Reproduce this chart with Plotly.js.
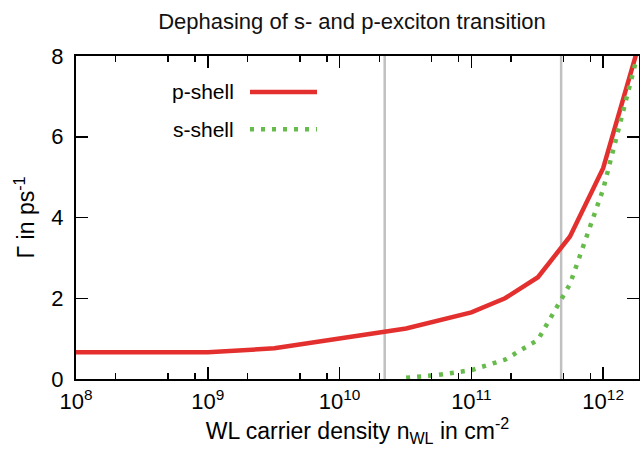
<!DOCTYPE html>
<html>
<head>
<meta charset="utf-8">
<script src="https://cdn.plot.ly/plotly-3.0.1.min.js"></script>
<style>html,body{margin:0;padding:0;background:#fff}</style>
</head>
<body>
<div id="chart" style="width:640px;height:452px"></div>
<script>
// Carrier density grid (cm^-2)
const densityP = [1e8, 1e9, 3.2e9, 1e10, 3.2e10, 1e11, 1.8e11, 3.2e11, 5.6e11, 1e12, 1.8e12];
const gammaP   = [0.66, 0.66, 0.76, 1.0, 1.25, 1.65, 2.0, 2.52, 3.53, 5.22, 8.1];
const densityS = [3.2e10, 5.6e10, 1e11, 1.8e11, 3.2e11, 5.6e11, 1e12, 1.8e12];
const gammaS   = [0.03, 0.1, 0.22, 0.48, 0.97, 2.35, 4.7, 7.95];
const markerLines = [2.2e10, 4.8e11];
const xTickVals = [1e8, 1e9, 1e10, 1e11, 1e12];
const xTickText = ['10<sup>8</sup>', '10<sup>9</sup>', '10<sup>10</sup>', '10<sup>11</sup>', '10<sup>12</sup>'];
const xMinorVals = [2e8, 5e8, 8e8, 2e9, 5e9, 8e9, 2e10, 5e10, 8e10, 2e11, 5e11, 8e11, 2e12, 5e12];
const yTickVals = [0, 2, 4, 6, 8];
const seriesNames = ['p-shell', 's-shell'];

const RED = '#e3302f', GREEN = '#66bb4a', GRAY = '#c0c0c0';
const FONT = 'Liberation Sans, Arial, Helvetica, sans-serif';

const traces = [];
markerLines.forEach(v => traces.push({
  x: [v, v], y: [0, 8], mode: 'lines', showlegend: false, hoverinfo: 'skip',
  line: {color: GRAY, width: 2.5}
}));
traces.push({x: densityP, y: gammaP, mode: 'lines', name: seriesNames[0], showlegend: false,
  line: {color: RED, width: 4.5}});
traces.push({x: densityS, y: gammaS, mode: 'lines', name: seriesNames[1], showlegend: false,
  line: {color: GREEN, width: 4.5, dash: '4px,7px'}});

const layout = {
  width: 640, height: 452,
  margin: {l: 76, r: 1, t: 56, b: 73},
  paper_bgcolor: '#fff', plot_bgcolor: '#fff',
  font: {family: FONT, color: '#000', size: 22},
  showlegend: false,
  title: {text: 'Dephasing of s- and p-exciton transition', font: {size: 22, family: FONT, color: '#111'},
          x: 352/640, xref: 'container', xanchor: 'center', y: 1 - 21/452, yref: 'container', yanchor: 'middle'},
  xaxis: {
    type: 'log', range: [8, 12.272], tickmode: 'array', tickvals: xTickVals, ticktext: xTickText,
    ticks: 'inside', ticklen: 12, tickwidth: 1.5, tickcolor: '#000',
    showline: true, linewidth: 2, linecolor: '#000', mirror: 'allticks',
    showgrid: false, zeroline: false,
    minor: {tickmode: 'array', tickvals: xMinorVals, ticks: 'inside', ticklen: 6, tickwidth: 1.5, tickcolor: '#000', showgrid: false},
    tickfont: {size: 22, family: FONT}, ticklabelstandoff: 2,
    title: {text: 'WL carrier density n<sub>WL</sub> in cm<sup>-2</sup>', font: {size: 23, family: FONT}, standoff: 6}
  },
  yaxis: {
    range: [0, 8], tickmode: 'array', tickvals: yTickVals,
    ticks: 'inside', ticklen: 12, tickwidth: 1.5, tickcolor: '#000',
    showline: true, linewidth: 2, linecolor: '#000', mirror: 'allticks',
    showgrid: false, zeroline: false,
    tickfont: {size: 22, family: FONT}, ticklabelstandoff: 6,
    title: {text: 'Γ in ps<sup>-1</sup>', font: {size: 23, family: FONT}, standoff: 10}
  },
  shapes: [
    {type: 'line', xref: 'paper', yref: 'paper', x0: (250-76)/563, x1: (317-76)/563,
     y0: (379.3-91.7)/323.6, y1: (379.3-91.7)/323.6, line: {color: RED, width: 4.5}},
    {type: 'line', xref: 'paper', yref: 'paper', x0: (250-76)/563, x1: (317-76)/563,
     y0: (379.3-129)/323.6, y1: (379.3-129)/323.6, line: {color: GREEN, width: 4.5, dash: '4px,7px'}}
  ],
  annotations: [
    {text: seriesNames[0], xref: 'paper', yref: 'paper', x: (236-76)/563, y: (379.3-91.7)/323.6,
     xanchor: 'right', yanchor: 'middle', showarrow: false, font: {size: 21, family: FONT}},
    {text: seriesNames[1], xref: 'paper', yref: 'paper', x: (236-76)/563, y: (379.3-129)/323.6,
     xanchor: 'right', yanchor: 'middle', showarrow: false, font: {size: 21, family: FONT}}
  ]
};

Plotly.newPlot('chart', traces, layout, {displayModeBar: false, staticPlot: true});
</script>
</body>
</html>
